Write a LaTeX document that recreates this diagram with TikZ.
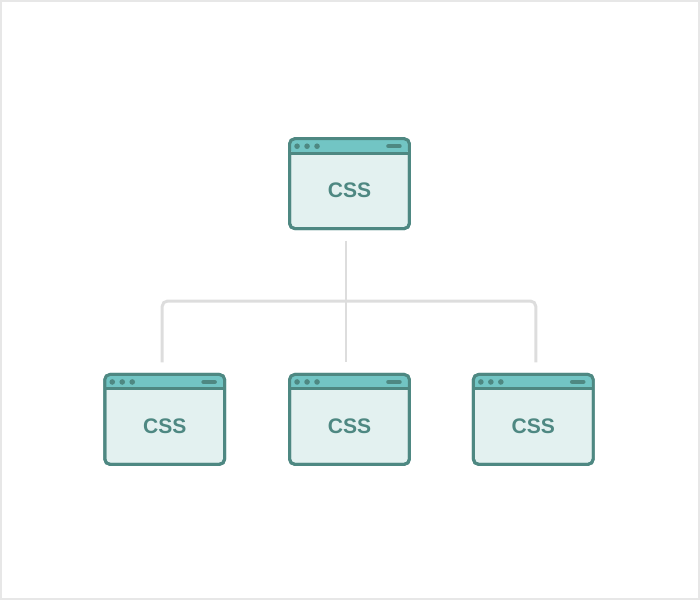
\documentclass[tikz,border=0pt]{standalone}
\usepackage{fontspec}
\setmainfont{Liberation Sans}
\usetikzlibrary{positioning}
\definecolor{frameColor}{RGB}{78,136,130}
\definecolor{barColor}{RGB}{114,197,196}
\definecolor{paneColor}{RGB}{227,241,240}
\definecolor{lineColor}{RGB}{221,221,221}
\tikzstyle{windowStyle} = [draw=frameColor, fill=paneColor, line width=1.7, rounded corners=3, minimum width=120*0.02cm, minimum height=90*0.02cm, inner sep=0, outer sep=0]
\tikzstyle{treeLine} = [draw=lineColor, line width=1.7]
\newcommand{\browserWindow}[3]{
  \node [windowStyle] (#1) at (#2, #3) {};
  \begin{scope}[shift={(#1.north west)}]
    \fill [barColor, rounded corners=2] (0.8, 0.8) rectangle (119.2, 14);
    \draw [frameColor, line width=1.7] (0, 14.5) -- (120, 14.5);
    \foreach \dot in {7.5, 17.5, 27.5} {
      \fill [frameColor] (\dot, 7.5) circle (2.8*0.02cm);
    }
    \draw [frameColor, line width=2.6, line cap=round] (99, 7.5) -- (110, 7.5);
  \end{scope}
  \node [text=frameColor, font=\bfseries\fontsize{12}{12}\selectfont] (#1Label) at ([yshift=-7*0.02cm]#1.center) {CSS};
  \draw [frameColor, line width=1.7, rounded corners=3] (#1.north west) rectangle (#1.south east);
}

\begin{document}
\begin{tikzpicture}[x = 0.02cm, y = -0.02cm]
  \draw [lineColor!70, line width=1] (0.5, 0.5) rectangle (699.5, 599.5);
  \useasboundingbox (0, 0) rectangle (700, 600);

  \browserWindow{top}{349.5}{183.5}
  \browserWindow{left}{164.5}{419.5}
  \browserWindow{middle}{349.5}{419.5}
  \browserWindow{right}{533.5}{419.5}

  \coordinate (split) at (346, 301);
  \draw [treeLine] ([xshift=-3.5*0.02cm, yshift=-12*0.02cm]top.south) -- (split);
  \draw [treeLine, rounded corners=3] ([xshift=-2.5*0.02cm, yshift=12*0.02cm]left.north) |- ([xshift=2.5*0.02cm]right.north |- split) -- ([xshift=2.5*0.02cm, yshift=12*0.02cm]right.north);
  \draw [treeLine] (split) -- ([xshift=-3.5*0.02cm, yshift=12*0.02cm]middle.north);
\end{tikzpicture}
\end{document}
